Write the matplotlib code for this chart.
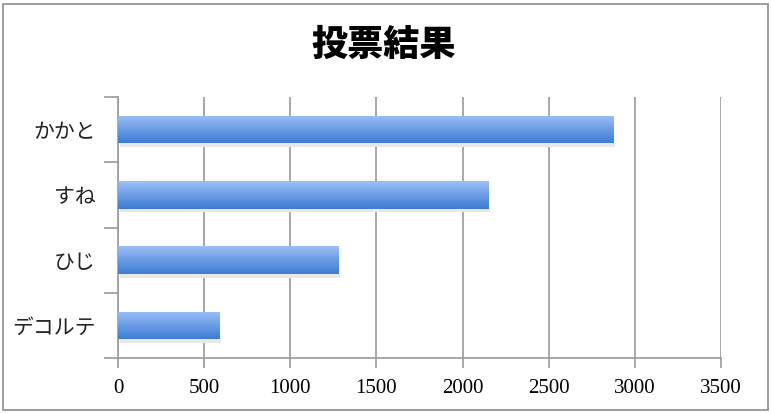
import matplotlib
matplotlib.use("Agg")
import matplotlib.pyplot as plt
from matplotlib.patches import Rectangle, FancyBboxPatch
import numpy as np

# ----------------------------------------------------------------------
# Data
# ----------------------------------------------------------------------
categories = ["かかと", "すね", "ひじ", "デコルテ"]
votes = [2875, 2150, 1280, 590]
x_ticks = [0, 500, 1000, 1500, 2000, 2500, 3000, 3500]
title = "投票結果"

JP_FONT = ["Noto Sans CJK JP", "DejaVu Sans"]
NUM_FONT = "Liberation Serif"
GRID_COLOR = "#9a9a9a"

# ----------------------------------------------------------------------
# Figure
# ----------------------------------------------------------------------
fig = plt.figure(figsize=(7.71, 4.13), dpi=100)
fig.patch.set_facecolor("white")

# outer frame around the whole chart
frame = FancyBboxPatch((3 / 771, 3 / 413), 765 / 771, 406 / 413,
                       boxstyle="square,pad=0", transform=fig.transFigure,
                       fill=False, edgecolor="#8c8c8c", linewidth=1.2)
fig.patches.append(frame)

ax = fig.add_axes([118 / 771, 55 / 413, 603 / 771, 261 / 413])

# categories from top to bottom
y_pos = np.arange(len(categories))[::-1]
bar_h = 0.42

# gradient fill for each bar (light top -> darker bottom)
grad = np.linspace(0, 1, 64).reshape(-1, 1)
cmap = matplotlib.colors.LinearSegmentedColormap.from_list(
    "barblue", ["#3e7cd2", "#6a9ce6", "#9cc0f7"])

bars = ax.barh(y_pos, votes, height=bar_h, color="#5f95e3", zorder=3)
for bar, y, v in zip(bars, y_pos, votes):
    # soft shadow underneath
    ax.add_patch(Rectangle((10, y - bar_h / 2 - 0.06), v, 0.06,
                           color="#e8e8e8", zorder=2, linewidth=0))
    img = ax.imshow(grad, cmap=cmap, aspect="auto", origin="lower",
                    extent=[0, v, y - bar_h / 2, y + bar_h / 2], zorder=4)
    img.set_clip_path(bar)

ax.set_xlim(0, 3500)
ax.set_ylim(-0.5, len(categories) - 0.5)

# x axis
ax.set_xticks(x_ticks)
ax.set_xticklabels([str(t) for t in x_ticks], fontname=NUM_FONT, fontsize=15)
ax.tick_params(axis="x", direction="out", length=7, width=1.2,
               color=GRID_COLOR, pad=8)
ax.xaxis.grid(True, color=GRID_COLOR, linewidth=1.2, zorder=0)
ax.set_axisbelow(True)

# y axis: labels centered on bars, ticks on category boundaries
ax.set_yticks(y_pos)
ax.set_yticklabels(categories, family=JP_FONT, fontsize=15, color="#222222")
ax.tick_params(axis="y", length=0, pad=16)
ax.set_yticks(np.arange(-0.5, len(categories)), minor=True)
ax.tick_params(axis="y", which="minor", direction="out", length=10,
               width=1.2, color=GRID_COLOR)

for side in ["top", "right"]:
    ax.spines[side].set_visible(False)
for side in ["left", "bottom"]:
    ax.spines[side].set_color(GRID_COLOR)
    ax.spines[side].set_linewidth(1.2)

fig.text(384 / 771, 1 - 45 / 413, title, family=JP_FONT, fontsize=26,
         fontweight="black", ha="center", va="center")

fig.savefig("out.png", dpi=100)
